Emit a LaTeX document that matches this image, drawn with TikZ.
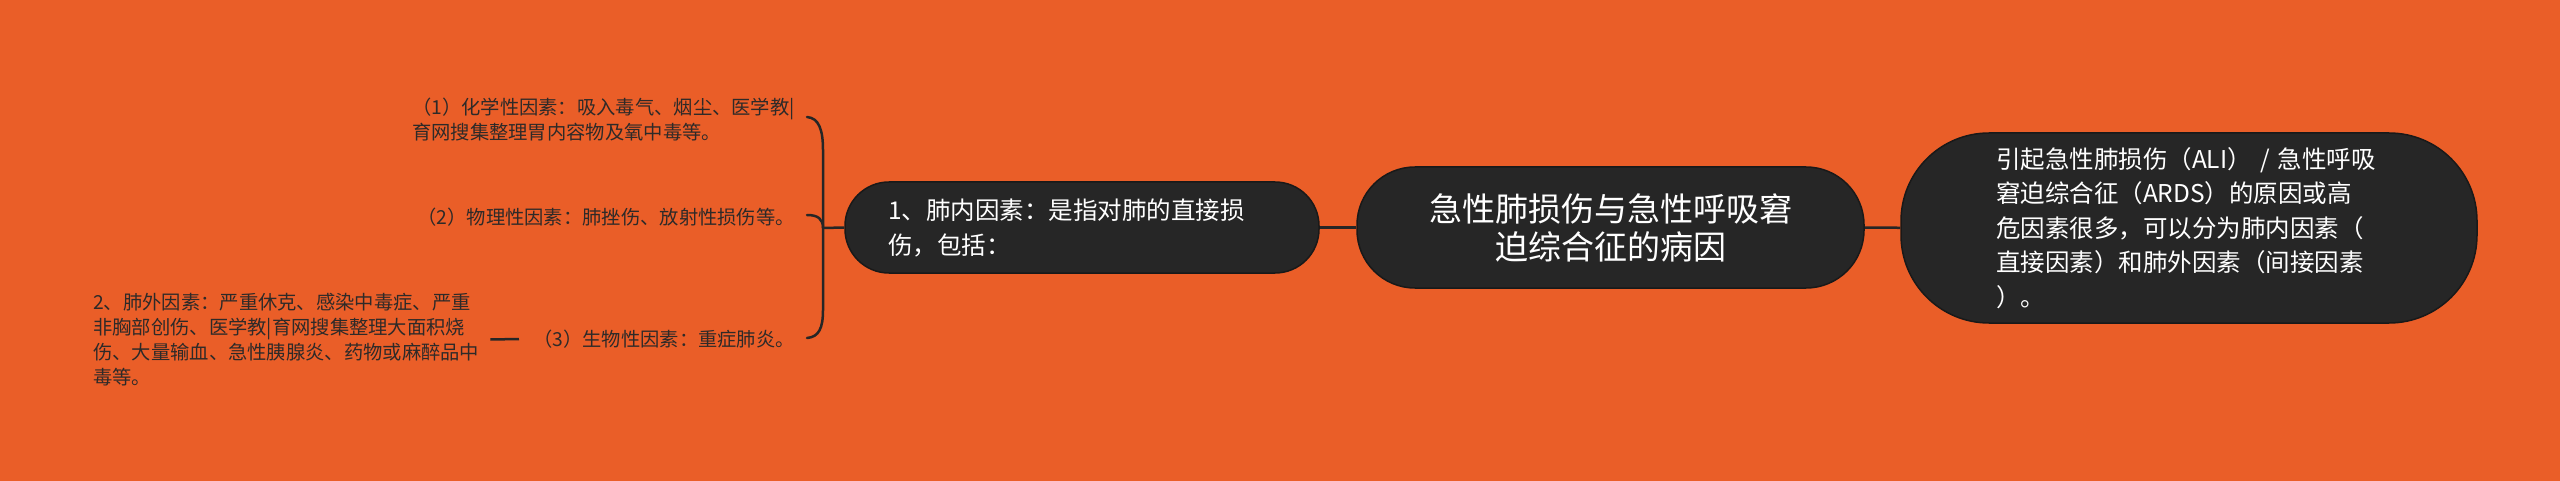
\documentclass[tikz,border=0pt]{standalone}
\usepackage{fontspec}
\setmainfont{Noto Sans CJK SC}
\usepackage{tikz}
\definecolor{mapOrange}{HTML}{EA5E28}
\definecolor{mapDark}{HTML}{262626}
\definecolor{mapText}{HTML}{2E2A28}

\begin{document}
\begin{tikzpicture}[x=1pt, y=-1pt,
	topic/.style={draw=black!90, line width=1.5pt, fill=mapDark, text=white, inner sep=0pt},
	leaf/.style={text=mapText, inner sep=0pt, align=left, font=\fontsize{19.3}{25}\selectfont},
	link/.style={draw=mapDark, line width=2.5pt}]

	\fill[mapOrange] (0,0) rectangle (2560,481);
	\useasboundingbox (0,0) rectangle (2560,481);

	% main topics
	\node[topic, rounded corners=58pt, minimum width=507pt, minimum height=121pt, align=center, font=\fontsize{33}{38}\selectfont] (root) at (1610.5,227.5) {急性肺损伤与急性呼吸窘\\迫综合征的病因};
	\node[topic, rounded corners=44pt, minimum width=474pt, minimum height=91pt, text width=388pt, align=left, font=\fontsize{24.5}{35}\selectfont] (inner) at (1082,227.5) {1、肺内因素：是指对肺的直接损\\伤，包括：};
	\node[topic, rounded corners=88pt, minimum width=576pt, minimum height=190pt, text width=386pt, align=left, font=\fontsize{24.5}{34.5}\selectfont] (intro) at (2189,228) {引起急性肺损伤（ALI）~/~急性呼吸\\窘迫综合征（ARDS）的原因或高\\危因素很多，可以分为肺内因素（\\直接因素）和肺外因素（间接因素\\）。};

	% leaves
	\node[leaf, anchor=east] (c1) at (795,119.5) {（1）化学性因素：吸入毒气、烟尘、医学教|\\育网搜集整理胃内容物及氧中毒等。};
	\node[leaf, anchor=east] (c2) at (795,217) {（2）物理性因素：肺挫伤、放射性损伤等。};
	\node[leaf, anchor=east] (c3) at (795,339) {（3）生物性因素：重症肺炎。};
	\node[leaf, anchor=west] (outer) at (93,339.5) {2、肺外因素：严重休克、感染中毒症、严重\\非胸部创伤、医学教|育网搜集整理大面积烧\\伤、大量输血、急性胰腺炎、药物或麻醉品中\\毒等。};

	\draw[link] (root) -- (inner);
	\draw[link] (root) -- (intro);
	\draw[link] ([xshift=11pt]outer.east) -- ([xshift=-14pt]c3.west);

	% brace
	\coordinate (brace) at (823,228);
	\draw[link, line cap=round] (807,117) .. controls (819,118) and (823,130) .. (823,150) -- (823,310) .. controls (823,328) and (819,337) .. (807,338);
	\draw[link, line cap=round] (807,215) .. controls (818,215) and (823,219) .. (brace);
	\draw[link] (brace) -- (inner.west);

\end{tikzpicture}
\end{document}
